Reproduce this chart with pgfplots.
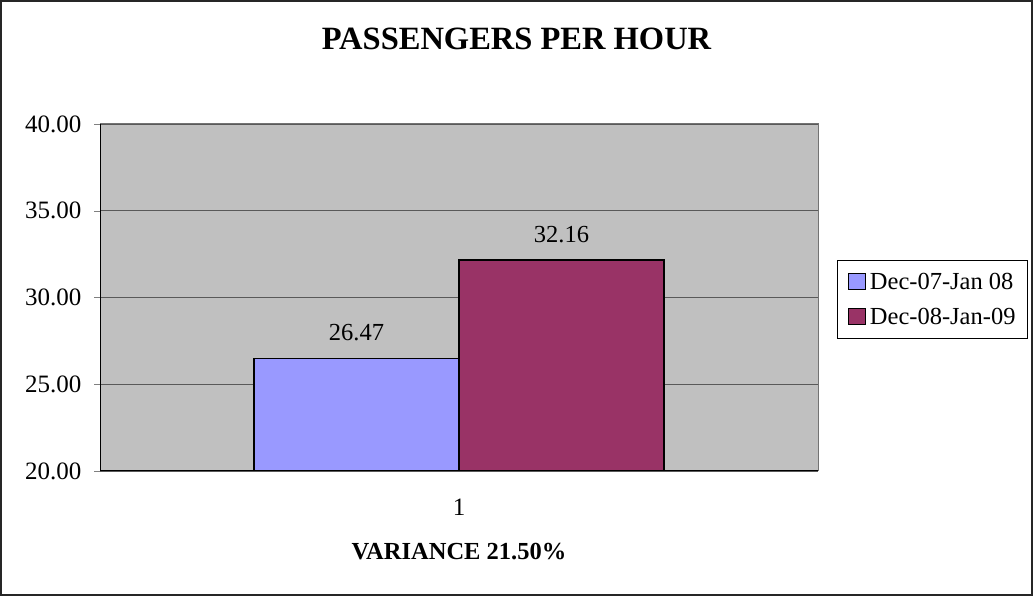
\documentclass[border=0pt]{standalone}
\usepackage{pgfplots}
\pgfplotsset{compat=1.18}
\usepackage{fontspec}
\setmainfont{Liberation Serif}
\definecolor{barA}{HTML}{9999FF}
\definecolor{barB}{HTML}{993366}
\definecolor{plotbg}{HTML}{C0C0C0}
\begin{document}
\begin{tikzpicture}[x=1pt,y=1pt]
\useasboundingbox (0,0) rectangle (1033,596);
\draw[black!85, line width=1.2pt] (1,1) rectangle (1032,595);
\node[anchor=base, font=\fontsize{32.5}{32.5}\selectfont\bfseries, inner sep=0pt] at (516.5,546) {PASSENGERS PER HOUR};
\coordinate (O) at (100,125);
\begin{axis}[
  at={(O)}, anchor=south west,
  scale only axis, width=718pt, height=347pt,
  ymin=20, ymax=40, ytick={20,25,30,35,40},
  xmin=0.5, xmax=1.5, xtick={1}, xticklabels={1},
  ytick pos=left, xtick pos=bottom,
  every major x tick/.append style={draw=none},
  tick align=outside, major tick length=6pt,
  ymajorgrids, grid style={black!65, line width=0.9pt},
  axis line style={draw=gray!90!black, line width=1pt},
  axis background/.style={fill=plotbg},
  /pgf/number format/assume math mode=true,
  ticklabel style={font=\fontsize{25}{25}\selectfont},
  yticklabel style={xshift=-9pt, /pgf/number format/fixed, /pgf/number format/fixed zerofill, /pgf/number format/precision=2},
  xticklabel style={yshift=-18pt},
  xlabel={\textbf{VARIANCE 21.50\%}},
  xlabel style={font=\fontsize{24.5}{24.5}\selectfont, yshift=-21pt},
  ybar=0pt, bar width=205pt,
  nodes near coords={\pgfmathprintnumber[fixed,fixed zerofill,precision=2,assume math mode=true]{\pgfplotspointmeta}},
  point meta=y,
  every node near coord/.append style={font=\fontsize{24.5}{24.5}\selectfont, yshift=13.5pt, black},
  legend image code/.code={\draw[#1, draw=black, line width=1pt] (2pt,-8pt) rectangle (19pt,8pt); \path[draw=none, fill=none] (0pt,0pt) -- (21pt,0pt);},
  legend style={at={(1.0265,0.608)}, anchor=north west, draw=black, line width=0.8pt,
    font=\fontsize{24.5}{24.5}\selectfont, legend cell align=left,
    inner xsep=9.5pt, inner ysep=10.5pt, row sep=13pt},
]
\addplot[fill=barA, draw=black, line width=1.5pt] coordinates {(1,26.47)};
\addplot[fill=barB, draw=black, line width=1.5pt] coordinates {(1,32.16)};
\legend{Dec-07-Jan 08, Dec-08-Jan-09}
\draw[black, line width=1pt] (rel axis cs:0,1) -- (rel axis cs:0,0) -- (rel axis cs:1,0);
\draw[black, line width=1pt] (rel axis cs:0,0) -- ++(0,-6pt);
\draw[black, line width=1pt] (rel axis cs:1,0) -- ++(0,-6pt);
\end{axis}
\end{tikzpicture}
\end{document}
